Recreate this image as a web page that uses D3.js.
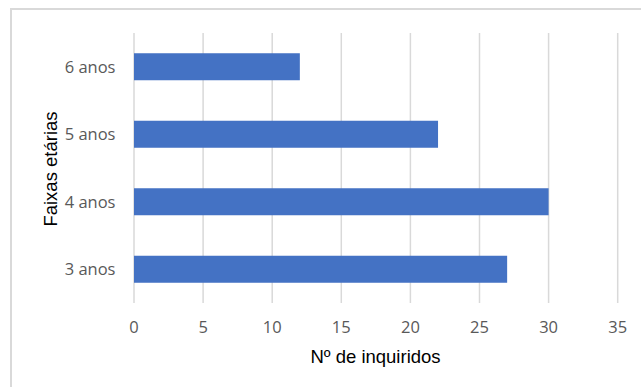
<!DOCTYPE html>
<html><head><meta charset="utf-8">
<script src="https://cdn.jsdelivr.net/npm/d3@7"></script>
<style>html,body{margin:0;padding:0;background:#fff;}</style>
</head><body>
<script>
const categories = ["6 anos", "5 anos", "4 anos", "3 anos"];
const values = [12, 22, 30, 27];
const xTicks = [0, 5, 10, 15, 20, 25, 30, 35];
const xTitle = "Nº de inquiridos";
const yTitle = "Faixas etárias";

const W = 641, H = 387;
const svg = d3.select("body").append("svg").attr("width", W).attr("height", H);

svg.append("rect").attr("x", 11).attr("y", 9).attr("width", 700).attr("height", 500)
  .attr("fill", "#fff").attr("stroke", "#d9d9d9").attr("stroke-width", 2);

const m = {l: 134, r: 641 - 617.7, t: 33, b: 387 - 303};
const x = d3.scaleLinear().domain([0, 35]).range([m.l, W - m.r]);
const y = d3.scaleBand().domain(categories).range([m.t, H - m.b]).paddingInner(0.6).paddingOuter(0.3);

const g = svg.append("g");
g.selectAll("line.grid").data(xTicks).join("line")
  .attr("x1", d => x(d)).attr("x2", d => x(d))
  .attr("y1", m.t).attr("y2", H - m.b)
  .attr("stroke", "#d9d9d9").attr("stroke-width", 1.5);

g.selectAll("rect.bar").data(categories).join("rect")
  .attr("x", x(0)).attr("y", d => y(d))
  .attr("width", (d, i) => x(values[i]) - x(0))
  .attr("height", y.bandwidth())
  .attr("fill", "#4472c4");

const font = "'Open Sans', sans-serif";
g.selectAll("text.xt").data(xTicks).join("text")
  .attr("x", d => x(d)).attr("y", 327).attr("dy", "0.35em")
  .attr("text-anchor", "middle").attr("font-family", font).attr("font-size", 16.5)
  .attr("fill", "#595959").text(d => d);

g.selectAll("text.yt").data(categories).join("text")
  .attr("x", 115.5).attr("y", d => y(d) + y.bandwidth() / 2).attr("dy", "0.35em")
  .attr("text-anchor", "end").attr("font-family", font).attr("font-size", 16.5)
  .attr("fill", "#595959").text(d => d);

svg.append("text").attr("x", 375.5).attr("y", 363)
  .attr("text-anchor", "middle").attr("font-family", "'Liberation Sans', Arial, sans-serif")
  .attr("font-size", 18.5).attr("fill", "#000").text(xTitle);

svg.append("text").attr("transform", "translate(57,169) rotate(-90)")
  .attr("text-anchor", "middle").attr("font-family", "'Liberation Sans', Arial, sans-serif")
  .attr("font-size", 18.5).attr("fill", "#000").text(yTitle);
</script>
</body></html>
